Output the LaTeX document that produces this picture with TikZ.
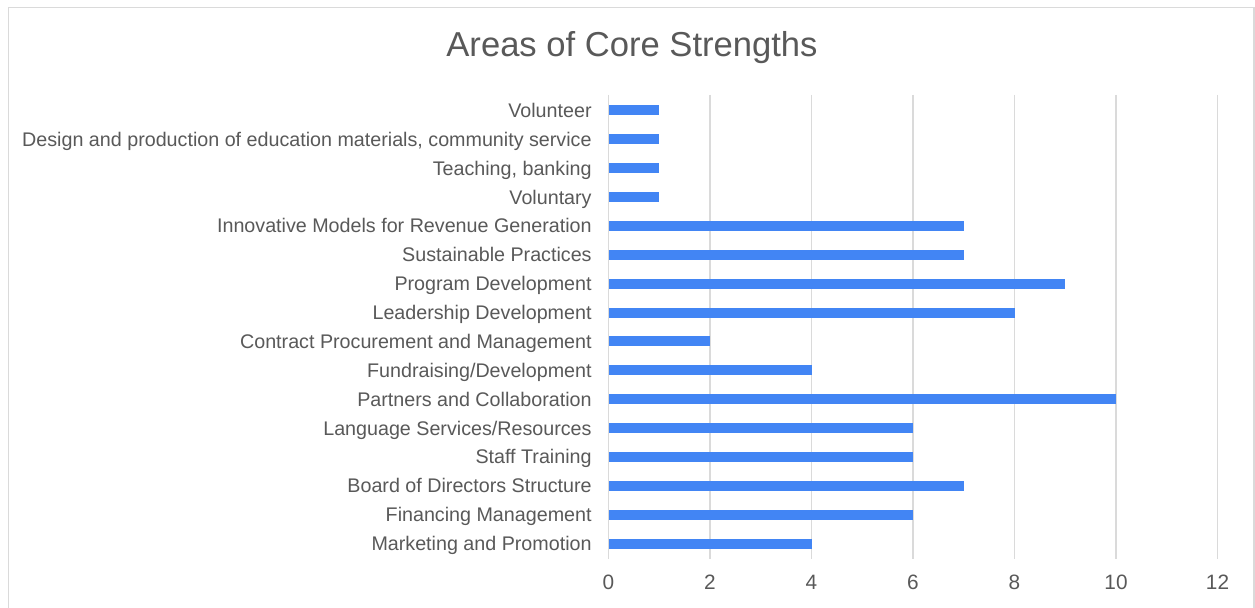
\documentclass[tikz,border=0pt]{standalone}
\usepackage{fontspec}
\setmainfont{Liberation Sans}
\definecolor{bar}{RGB}{66, 133, 244}
\definecolor{grid}{RGB}{218, 218, 218}
\definecolor{ink}{RGB}{89, 89, 89}

\begin{document}
\begin{tikzpicture}[x=0.5pt, y=-0.5pt, lab/.style={color=ink, inner sep=0, font=\fontsize{9.85}{11}\selectfont}]

  \useasboundingbox (0, 0) rectangle (1255, 608);
  \fill[white] (0, 0) rectangle (1255, 608);

  \draw[color=grid, line width=0.75] (8.5, 608) -- (8.5, 7.5) -- (1254, 7.5) -- (1254, 608);

  \node[color=ink, inner sep=0, font=\fontsize{17.3}{20}\selectfont, anchor=base] (title) at (632, 57) {Areas of Core Strengths};

  \foreach \k in {0, 2,..., 12} {
    \draw[color=grid, line width=0.75] ({608.5 + 50.75*\k}, 95) -- ({608.5 + 50.75*\k}, 559);
    \node[lab, font=\fontsize{10.4}{12}\selectfont, anchor=base] (tick-\k) at ({608.5 + 50.75*\k}, 590) {\k};
  }

  \foreach \val/\name [count=\i from 0] in {1/Volunteer,
      1/{Design and production of education materials, community service},
      1/{Teaching, banking}, 1/Voluntary,
      7/Innovative Models for Revenue Generation, 7/Sustainable Practices,
      9/Program Development, 8/Leadership Development,
      2/Contract Procurement and Management, 4/{Fundraising/Development},
      10/Partners and Collaboration, 6/{Language Services/Resources},
      6/Staff Training, 7/Board of Directors Structure,
      6/Financing Management, 4/Marketing and Promotion} {
    \fill[bar] (608.5, {105.5 + 28.87*\i}) rectangle ({608.5 + 50.75*\val}, {115.5 + 28.87*\i});
    \node[lab, anchor=base east] (label-\i) at (592, {117.5 + 28.87*\i}) {\name};
  }

\end{tikzpicture}
\end{document}
